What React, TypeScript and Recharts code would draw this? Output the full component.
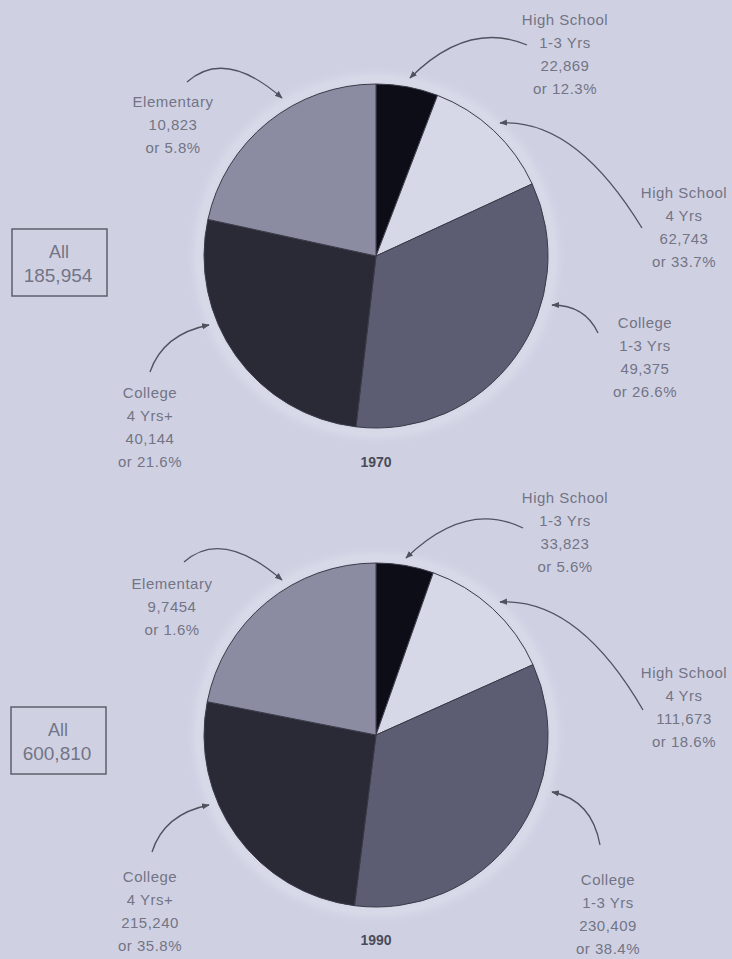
import { PieChart, Pie, Cell } from 'recharts';

// education attainment, persons 25+ (1970 vs 1990)
const categories = ['Elementary', 'High School 1-3 Yrs', 'High School 4 Yrs', 'College 1-3 Yrs', 'College 4 Yrs+'];
const counts1970 = [10823, 22869, 62743, 49375, 40144];
const countText1970 = ['10,823', '22,869', '62,743', '49,375', '40,144'];
const pctText1970 = ['5.8%', '12.3%', '33.7%', '26.6%', '21.6%'];
const countText1990 = ['9,7454', '33,823', '111,673', '230,409', '215,240'];
const pctText1990 = ['1.6%', '5.6%', '18.6%', '38.4%', '35.8%'];
// wedges as printed in the 1990 pie (the print repeats the 1970 wedge sizes)
const drawnShare1990 = [5.4, 12.9, 33.7, 26.1, 21.9];
const totals = ['185,954', '600,810'];
const years = ['1970', '1990'];

const sliceColors = ['#0d0d17', '#d6d8e7', '#5c5d72', '#2a2a37', '#8b8ca1'];
const BG = '#cfd1e3';
const TEXT = '#737485';
const ARROW = '#50525f';

const pie1970 = categories.map((name, i) => ({ name, value: counts1970[i] }));
const pie1990 = categories.map((name, i) => ({ name, value: drawnShare1990[i] }));

// label layout: [x, first line y] per category, per pie
const labelPos1970: [number, number][] = [[173, 102], [565, 20], [684, 193], [645, 323], [150, 393]];
const labelPos1990: [number, number][] = [[172, 584], [565, 498], [684, 673], [608, 880], [150, 877]];
const arrows1970 = [
  'M187,82 Q225,48 282,98',
  'M527,45 Q468,20 410,78',
  'M642,228 Q575,118 500,123',
  'M598,333 Q585,305 552,305',
  'M150,372 Q163,334 209,325',
];
const arrows1990 = [
  'M184,562 Q222,528 282,580',
  'M523,528 Q466,500 406,558',
  'M643,710 Q578,598 500,602',
  'M600,845 Q592,800 552,792',
  'M152,852 Q164,814 209,805',
];

const labelLines = (i: number, count: string, pct: string) => {
  const name = categories[i];
  if (name.startsWith('High School')) return ['High School', name.replace('High School ', ''), count, 'or ' + pct];
  if (name.startsWith('College')) return ['College', name.replace('College ', ''), count, 'or ' + pct];
  return [name, count, 'or ' + pct];
};

const Labels = ({ pos, arrows, counts, pcts }: { pos: [number, number][]; arrows: string[]; counts: string[]; pcts: string[] }) => (
  <g>
    {arrows.map((d, i) => (
      <path key={'a' + i} d={d} fill="none" stroke={ARROW} strokeWidth={1.3} markerEnd="url(#head)" />
    ))}
    {pos.map(([x, y], i) => (
      <text key={'t' + i} x={x} y={y + 5} textAnchor="middle" fill={TEXT} fontSize={15} letterSpacing={0.5}
        fontFamily="'Liberation Sans', Arial, sans-serif">
        {labelLines(i, counts[i], pcts[i]).map((line, j) => (
          <tspan key={j} x={x} dy={j === 0 ? 0 : 23}>{line}</tspan>
        ))}
      </text>
    ))}
  </g>
);

const TotalBox = ({ x, y, total }: { x: number; y: number; total: string }) => (
  <g fontFamily="'Liberation Sans', Arial, sans-serif" fill={TEXT} textAnchor="middle">
    <rect x={x} y={y} width={95} height={67} fill="none" stroke="#5e5f6c" strokeWidth={1.5} />
    <text x={x + 47} y={y + 29} fontSize={18}>All</text>
    <text x={x + 46} y={y + 53} fontSize={19}>{total}</text>
  </g>
);

export default function App() {
  return (
    <div style={{ position: 'absolute', left: 0, top: 0, width: 732, height: 959, background: BG, overflow: 'hidden' }}>
      <svg width={732} height={959} style={{ position: 'absolute', left: 0, top: 0 }}>
        <defs>
          <filter id="glow"><feGaussianBlur stdDeviation="4" /></filter>
        </defs>
        <circle cx={376} cy={256} r={177} fill="none" stroke="#dcdeec" strokeWidth={8} filter="url(#glow)" />
        <circle cx={376} cy={735} r={177} fill="none" stroke="#dcdeec" strokeWidth={8} filter="url(#glow)" />
      </svg>
      <div style={{ position: 'absolute', left: 0, top: 0 }}>
        <PieChart width={732} height={959} margin={{ top: 0, right: 0, bottom: 0, left: 0 }}>
          <Pie data={pie1970} dataKey="value" nameKey="name" cx={376} cy={256} outerRadius={172}
            startAngle={90} endAngle={-270} stroke="#3a3b48" strokeWidth={1} isAnimationActive={false}>
            {pie1970.map((d, i) => <Cell key={d.name} fill={sliceColors[i]} />)}
          </Pie>
          <Pie data={pie1990} dataKey="value" nameKey="name" cx={376} cy={735} outerRadius={172}
            startAngle={90} endAngle={-270} stroke="#3a3b48" strokeWidth={1} isAnimationActive={false}>
            {pie1990.map((d, i) => <Cell key={d.name} fill={sliceColors[i]} />)}
          </Pie>
        </PieChart>
      </div>
      <svg width={732} height={959} style={{ position: 'absolute', left: 0, top: 0 }}>
        <defs>
          <marker id="head" viewBox="0 0 10 10" refX={9} refY={5} markerWidth={6} markerHeight={6} orient="auto">
            <path d="M0,1 L10,5 L0,9 z" fill={ARROW} />
          </marker>
        </defs>
        <Labels pos={labelPos1970} arrows={arrows1970} counts={countText1970} pcts={pctText1970} />
        <Labels pos={labelPos1990} arrows={arrows1990} counts={countText1990} pcts={pctText1990} />
        <TotalBox x={12} y={229} total={totals[0]} />
        <TotalBox x={11} y={707} total={totals[1]} />
        {years.map((yr, i) => (
          <text key={yr} x={376} y={(i === 0 ? 462 : 940) + 5} textAnchor="middle" fontSize={14} fontWeight="bold"
            fill="#4a4b58" fontFamily="'Liberation Sans', Arial, sans-serif">{yr}</text>
        ))}
      </svg>
    </div>
  );
}
